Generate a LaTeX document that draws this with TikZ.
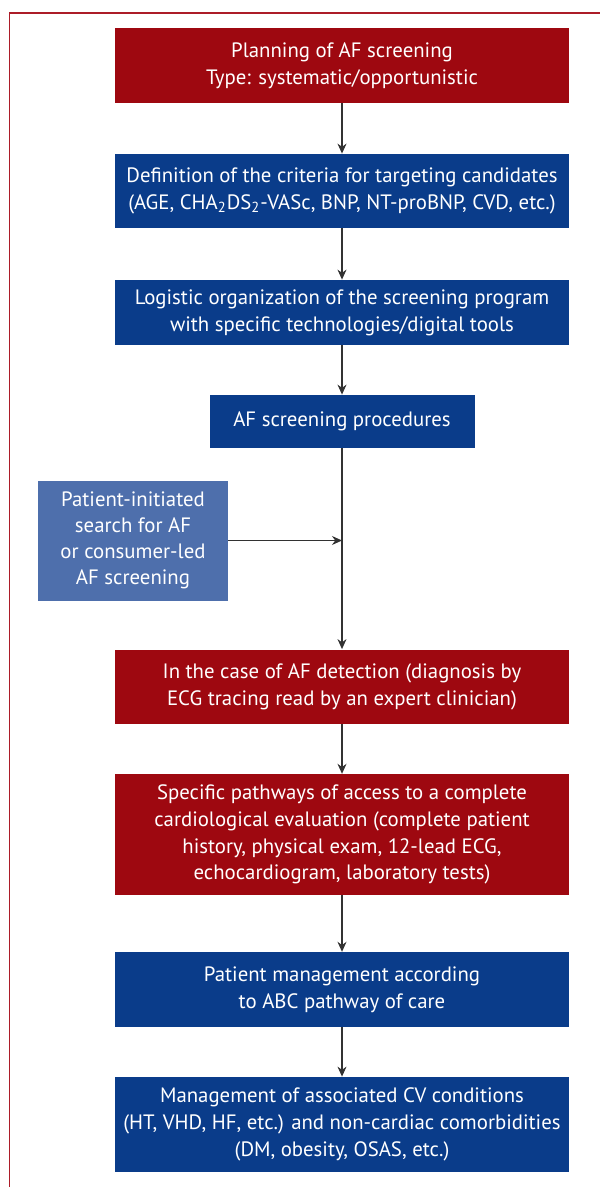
\documentclass[tikz,border=0pt]{standalone}
\usepackage{fontspec}
\setmainfont{PT Sans}
\usetikzlibrary{arrows.meta}

\definecolor{boxred}{RGB}{158,8,16}
\definecolor{boxblue}{RGB}{10,60,138}
\definecolor{sideblue}{RGB}{78,111,172}
\definecolor{framered}{RGB}{172,28,40}
\definecolor{linegray}{RGB}{50,50,50}

\tikzset{
  redbox/.style={fill=boxred,text=white,inner sep=0pt,align=center,minimum width=227pt,font=\fontsize{10.4}{13.4}\selectfont},
  bluebox/.style={redbox,fill=boxblue},
  sidebox/.style={redbox,fill=sideblue,minimum width=95pt,font=\fontsize{10.4}{12.9}\selectfont},
  flow/.style={draw=linegray,line width=0.6pt,-{Stealth[length=5pt,width=4.5pt]}}
}

\begin{document}
\begin{tikzpicture}[x=0.5pt,y=0.5pt,yscale=-1,xscale=1]
\useasboundingbox (0,0) rectangle (599,1187);

%Shape: Frame
\draw [framered,line width=0.8pt] (9.5,13.3) rectangle (640,1220);

% Text Node
\node (plan) at (342,65.5) [redbox,minimum height=37.3pt] {Planning of AF screening\\Type: systematic/opportunistic};
% Text Node
\node (crit) at (342,191) [bluebox,minimum height=37pt] {Definition of the criteria for targeting candidates\\(AGE, CHA\textsubscript{2}DS\textsubscript{2}-VASc, BNP, NT-proBNP, CVD, etc.)};
% Text Node
\node (logi) at (342,312.5) [bluebox,minimum height=32.5pt] {Logistic organization of the screening program\\with specific technologies/digital tools};
% Text Node
\node (proc) at (342,421.5) [bluebox,minimum width=132.5pt,minimum height=26.5pt] {AF screening procedures};
% Text Node
\node (self) at (133,540.5) [sidebox,minimum height=60pt] {Patient-initiated\\search for AF\\or consumer-led\\AF screening};
% Text Node
\node (detect) at (342,686.5) [redbox,minimum height=37pt] {In the case of AF detection (diagnosis by\\ECG tracing read by an expert clinician)};
% Text Node
\node (eval) at (342,834.5) [redbox,minimum height=60.3pt] {Specific pathways of access to a complete\\cardiological evaluation (complete patient\\history, physical exam, 12-lead ECG,\\echocardiogram, laboratory tests)};
% Text Node
\node (abc) at (342,989.5) [bluebox,minimum height=37.3pt] {Patient management according\\to ABC pathway of care};
% Text Node
\node (cond) at (342,1124.5) [bluebox,minimum height=47.5pt] {Management of associated CV conditions\\(HT, VHD, HF, etc.) and non-cardiac comorbidities\\(DM, obesity, OSAS, etc.)};

\coordinate (join) at (342,540.5);

%Straight Lines
\draw [flow] (plan) -- (crit);
\draw [flow] (crit) -- (logi);
\draw [flow] (logi) -- (proc);
\draw [flow] (proc) -- (detect);
\draw [flow] (self.east) -- (join);
\draw [flow] (detect) -- (eval);
\draw [flow] (eval) -- (abc);
\draw [flow] (abc) -- (cond);
\end{tikzpicture}
\end{document}
